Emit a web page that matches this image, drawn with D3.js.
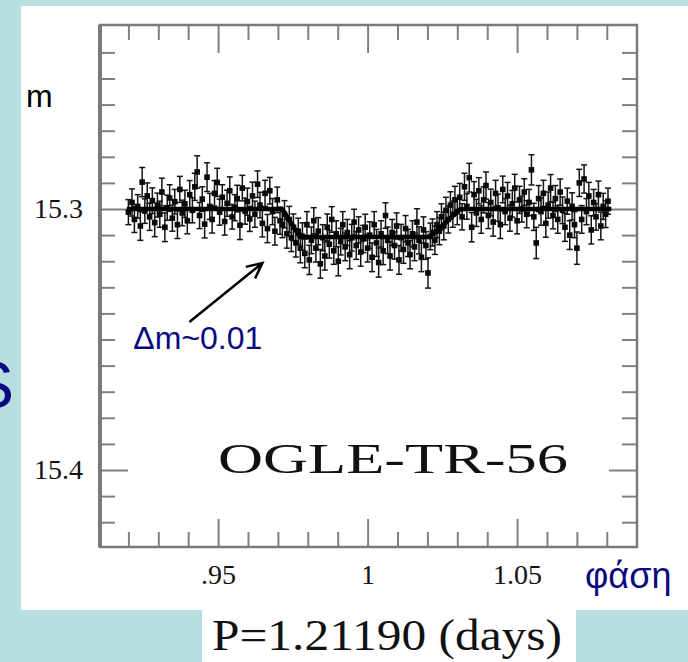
<!DOCTYPE html>
<html>
<head>
<meta charset="utf-8">
<script src="https://cdn.jsdelivr.net/npm/d3@7"></script>
<style>
html, body { margin: 0; padding: 0; background: #b8dee2; }
svg { display: block; }
</style>
</head>
<body>
<svg id="chart" width="688" height="662"></svg>
<script>
// [phase, magnitude, error]
var preTransit = [
	[0.9200,15.3012,.0048],[0.9212,15.2975,.0052],[0.9220,15.3040,.0050],[0.9231,15.2990,.0045],
	[0.9240,15.3065,.0055],[0.9246,15.2897,.0056],[0.9255,15.3008,.0047],[0.9263,15.2950,.0050],
	[0.9271,15.3030,.0052],[0.9280,15.2968,.0049],[0.9288,15.3052,.0054],[0.9297,15.2985,.0046],
	[0.9305,15.3020,.0050],[0.9312,15.2935,.0053],[0.9322,15.3070,.0055],[0.9330,15.2995,.0048],
	[0.9338,15.2958,.0051],[0.9347,15.3035,.0050],[0.9355,15.2972,.0047],[0.9364,15.3060,.0053],
	[0.9372,15.2925,.0050],[0.9380,15.3015,.0049],[0.9389,15.2980,.0052],[0.9397,15.3045,.0050],
	[0.9405,15.2945,.0054],[0.9414,15.3005,.0048],[0.9422,15.2915,.0052],[0.9430,15.2858,.0062],
	[0.9438,15.3025,.0050],[0.9447,15.2962,.0047],[0.9455,15.3058,.0053],[0.9463,15.2878,.0055],
	[0.9472,15.2990,.0050],[0.9480,15.3040,.0052],[0.9488,15.2940,.0049],[0.9497,15.2898,.0054],
	[0.9505,15.3012,.0050],[0.9514,15.2955,.0048],[0.9522,15.3048,.0052],[0.9530,15.2978,.0050],
	[0.9539,15.2930,.0053],[0.9547,15.3030,.0047],[0.9556,15.2995,.0050],[0.9564,15.2960,.0051],
	[0.9573,15.3062,.0055],[0.9581,15.2920,.0049],[0.9590,15.3008,.0050],[0.9598,15.2972,.0052],
	[0.9606,15.3038,.0048],[0.9615,15.2950,.0053],[0.9623,15.3020,.0050],[0.9632,15.2905,.0051],
	[0.9640,15.2985,.0049],[0.9648,15.3055,.0052],[0.9657,15.2940,.0050],[0.9665,15.3075,.0054],
	[0.9673,15.2930,.0051],[0.9682,15.3010,.0050],[0.9690,15.3085,.0053],[0.9698,15.2965,.0049],
	[0.9707,15.3045,.0052]
];
var ingress = [
	[0.9715,15.3060,.0050],[0.9722,15.3020,.0052],[0.9730,15.3095,.0055],[0.9738,15.3040,.0050],
	[0.9745,15.3110,.0053],[0.9752,15.3070,.0051],[0.9760,15.3130,.0054],[0.9768,15.3085,.0050],
	[0.9775,15.3150,.0056]
];
var transitFloor = [
	[0.9782,15.3105,.0052],[0.9790,15.3170,.0055],[0.9797,15.3060,.0050],[0.9805,15.3195,.0056],
	[0.9812,15.3120,.0051],[0.9820,15.3045,.0050],[0.9827,15.3150,.0053],[0.9835,15.3085,.0052],
	[0.9842,15.3210,.0055],[0.9850,15.3110,.0050],[0.9857,15.3180,.0054],[0.9865,15.3070,.0051],
	[0.9872,15.3135,.0053],[0.9880,15.3040,.0049],[0.9887,15.3160,.0052],[0.9895,15.3095,.0050],
	[0.9902,15.3200,.0056],[0.9910,15.3125,.0051],[0.9917,15.3060,.0050],[0.9925,15.3145,.0053],
	[0.9932,15.3090,.0050],[0.9940,15.3175,.0054],[0.9947,15.3110,.0051],[0.9955,15.3050,.0049],
	[0.9962,15.3140,.0053],[0.9970,15.3080,.0050],[0.9977,15.3165,.0054],[0.9985,15.3115,.0052],
	[0.9992,15.3070,.0050],[1.0000,15.3150,.0053],[1.0007,15.3100,.0051],[1.0015,15.3185,.0055],
	[1.0022,15.3060,.0050],[1.0030,15.3130,.0052],[1.0037,15.3205,.0056],[1.0045,15.3095,.0050],
	[1.0052,15.3160,.0053],[1.0060,15.3025,.0049],[1.0067,15.3120,.0051],[1.0075,15.3180,.0054],
	[1.0082,15.3090,.0050],[1.0090,15.3140,.0052],[1.0097,15.3065,.0050],[1.0105,15.3195,.0055],
	[1.0112,15.3110,.0051],[1.0120,15.3155,.0053],[1.0127,15.3075,.0050],[1.0135,15.3130,.0052],
	[1.0142,15.3175,.0054],[1.0150,15.3095,.0050],[1.0157,15.3145,.0053],[1.0165,15.3050,.0051],
	[1.0172,15.3120,.0052],[1.0180,15.3185,.0055],[1.0187,15.3080,.0050],[1.0195,15.3140,.0053],
	[1.0202,15.3245,.0058],[1.0210,15.3105,.0051]
];
var egress = [
	[1.0217,15.3090,.0052],[1.0225,15.3120,.0054],[1.0232,15.3060,.0050],[1.0240,15.3085,.0052],
	[1.0247,15.3030,.0050],[1.0255,15.3065,.0053],[1.0262,15.3005,.0050],[1.0270,15.3040,.0052],
	[1.0277,15.2985,.0051],[1.0285,15.3020,.0050],[1.0292,15.2965,.0052],[1.0300,15.3010,.0050]
];
var postTransit = [
	[1.0308,15.2955,.0053],[1.0316,15.3030,.0050],[1.0324,15.2915,.0052],[1.0332,15.2990,.0049],
	[1.0340,15.2880,.0055],[1.0348,15.3070,.0056],[1.0356,15.2945,.0050],[1.0364,15.3015,.0052],
	[1.0372,15.2930,.0050],[1.0380,15.3040,.0053],[1.0388,15.2965,.0050],[1.0396,15.2910,.0052],
	[1.0404,15.3025,.0050],[1.0412,15.2975,.0051],[1.0420,15.3050,.0054],[1.0428,15.2940,.0050],
	[1.0436,15.2995,.0052],[1.0444,15.3060,.0053],[1.0452,15.2925,.0051],[1.0460,15.3010,.0050],
	[1.0468,15.2950,.0052],[1.0476,15.3035,.0050],[1.0484,15.2980,.0051],[1.0492,15.2920,.0053],
	[1.0500,15.3045,.0050],[1.0508,15.2965,.0052],[1.0516,15.3000,.0050],[1.0524,15.2935,.0051],
	[1.0532,15.3020,.0052],[1.0540,15.2975,.0050],[1.0548,15.2850,.0058],[1.0556,15.3030,.0052],
	[1.0564,15.3130,.0060],[1.0572,15.2960,.0050],[1.0580,15.3010,.0052],[1.0588,15.2940,.0050],
	[1.0596,15.3055,.0053],[1.0604,15.2985,.0050],[1.0612,15.2920,.0052],[1.0620,15.3025,.0051],
	[1.0628,15.2960,.0050],[1.0636,15.3040,.0053],[1.0644,15.2935,.0050],[1.0652,15.3005,.0051],
	[1.0660,15.3070,.0054],[1.0668,15.2970,.0050],[1.0676,15.3100,.0055],[1.0684,15.2990,.0052],
	[1.0692,15.3060,.0050],[1.0700,15.3150,.0062],[1.0708,15.2900,.0052],[1.0716,15.3040,.0053],
	[1.0724,15.2885,.0054],[1.0732,15.3010,.0050],[1.0740,15.2950,.0052],[1.0748,15.3080,.0054],
	[1.0756,15.2975,.0050],[1.0764,15.3030,.0051],[1.0772,15.2945,.0052],[1.0780,15.3065,.0053],
	[1.0788,15.2990,.0050],[1.0796,15.3020,.0051],[1.0804,15.2970,.0050]
];

// transit model (thick line)
var modelPhase = [0.9195, 0.9714, 0.9774, 1.0209, 1.0310, 1.0815];
var modelMag = [15.300, 15.300, 15.3107, 15.3107, 15.300, 15.300];

// ticks
var xMajor = [0.95, 1.00, 1.05];
var xLabels = [".95", "1", "1.05"];
var xMinor = [0.92,0.93,0.94,0.96,0.97,0.98,0.99,1.01,1.02,1.03,1.04,1.06,1.07,1.08];
var yMajor = [15.3, 15.4];
var yLabels = ["15.3", "15.4"];
var yMinor = [15.24,15.25,15.26,15.27,15.28,15.29,15.31,15.32,15.33,15.34,15.35,15.36,15.37,15.38,15.39,15.41,15.42];

var navy = "#0a0a80",
	tickGrey = "#808080",
	serif = "'Liberation Serif', 'DejaVu Serif', serif",
	sans = "'Liberation Sans', Arial, sans-serif";

var svg = d3.select("#chart");

var x = d3.scaleLinear().domain([0.9105, 1.0901]).range([100, 637]);
var y = d3.scaleLinear().domain([15.2295, 15.4295]).range([25, 547]);

// panels
svg.append("rect").attr("x", 0).attr("y", 0).attr("width", 688).attr("height", 662).attr("fill", "#b8dee2");
svg.append("rect").attr("x", 21).attr("y", 6).attr("width", 667).attr("height", 604).attr("fill", "#fff");
svg.append("rect").attr("x", 202).attr("y", 610).attr("width", 374).attr("height", 52).attr("fill", "#fff");

function styleAxis(g) {
	g.select(".domain").remove();
	g.selectAll(".tick line").attr("stroke", tickGrey).attr("stroke-width", 2);
	g.selectAll(".tick text").attr("font-family", serif).attr("font-size", 28).attr("fill", "#111");
}

var x0 = x.range()[0], x1 = x.range()[1], y0 = y.range()[0], y1 = y.range()[1];

// bottom
svg.append("g").attr("transform", "translate(0," + y1 + ")")
	.call(d3.axisBottom(x).tickValues(xMinor).tickSize(-15).tickFormat("")).call(styleAxis);
svg.append("g").attr("transform", "translate(0," + y1 + ")")
	.call(d3.axisBottom(x).tickValues(xMajor).tickSize(-28).tickPadding(17)
		.tickFormat(function (d, i) { return xLabels[i]; }))
	.call(styleAxis);
// top
svg.append("g").attr("transform", "translate(0," + y0 + ")")
	.call(d3.axisTop(x).tickValues(xMinor).tickSize(-15).tickFormat("")).call(styleAxis);
svg.append("g").attr("transform", "translate(0," + y0 + ")")
	.call(d3.axisTop(x).tickValues(xMajor).tickSize(-28).tickFormat("")).call(styleAxis);
// left
svg.append("g").attr("transform", "translate(" + x0 + ",0)")
	.call(d3.axisLeft(y).tickValues(yMinor).tickSize(-15).tickFormat("")).call(styleAxis);
svg.append("g").attr("transform", "translate(" + x0 + ",0)")
	.call(d3.axisLeft(y).tickValues(yMajor).tickSize(-28).tickPadding(17)
		.tickFormat(function (d, i) { return yLabels[i]; }))
	.call(styleAxis);
// right
svg.append("g").attr("transform", "translate(" + x1 + ",0)")
	.call(d3.axisRight(y).tickValues(yMinor).tickSize(-15).tickFormat("")).call(styleAxis);
svg.append("g").attr("transform", "translate(" + x1 + ",0)")
	.call(d3.axisRight(y).tickValues(yMajor).tickSize(-28).tickFormat("")).call(styleAxis);

// frame
svg.append("rect")
	.attr("x", x0).attr("y", y0).attr("width", x1 - x0).attr("height", y1 - y0)
	.attr("fill", "none").attr("stroke", "#7a7a7a").attr("stroke-width", 2.5);
svg.append("line")
	.attr("x1", x0).attr("x2", x0).attr("y1", y0).attr("y2", y1)
	.attr("stroke", "#7a7a7a").attr("stroke-width", 4);

// observations
var obs = [].concat(preTransit, ingress, transitFloor, egress, postTransit);

var bars = svg.append("g").attr("stroke", "#141414").attr("stroke-width", 1.5);
bars.selectAll(".bar")
	.data(obs)
	.enter().append("line")
	.attr("class", "bar")
	.attr("x1", function (d) { return x(d[0]); })
	.attr("x2", function (d) { return x(d[0]); })
	.attr("y1", function (d) { return y(d[1] - d[2]); })
	.attr("y2", function (d) { return y(d[1] + d[2]); });
bars.selectAll(".capTop")
	.data(obs)
	.enter().append("line")
	.attr("class", "capTop")
	.attr("x1", function (d) { return x(d[0]) - 3; })
	.attr("x2", function (d) { return x(d[0]) + 3; })
	.attr("y1", function (d) { return y(d[1] - d[2]); })
	.attr("y2", function (d) { return y(d[1] - d[2]); });
bars.selectAll(".capBot")
	.data(obs)
	.enter().append("line")
	.attr("class", "capBot")
	.attr("x1", function (d) { return x(d[0]) - 3; })
	.attr("x2", function (d) { return x(d[0]) + 3; })
	.attr("y1", function (d) { return y(d[1] + d[2]); })
	.attr("y2", function (d) { return y(d[1] + d[2]); });

svg.append("g").selectAll("rect")
	.data(obs)
	.enter().append("rect")
	.attr("x", function (d) { return x(d[0]) - 2.8; })
	.attr("y", function (d) { return y(d[1]) - 2.8; })
	.attr("width", 5.6).attr("height", 5.6)
	.attr("fill", "#0a0a0a");

// model
var model = modelPhase.map(function (p, i) { return [p, modelMag[i]]; });
svg.append("path")
	.datum(model)
	.attr("fill", "none")
	.attr("stroke", "#000")
	.attr("stroke-width", 4.5)
	.attr("stroke-linejoin", "round")
	.attr("d", d3.line().x(function (d) { return x(d[0]); }).y(function (d) { return y(d[1]); }));

// arrow annotation
var arrowTail = [0.9404, 15.3433], arrowTip = [0.9648, 15.3207];
var ax1 = x(arrowTail[0]), ay1 = y(arrowTail[1]), ax2 = x(arrowTip[0]), ay2 = y(arrowTip[1]);
var ang = Math.atan2(ay2 - ay1, ax2 - ax1), headLen = 17, spread = 0.45;
svg.append("path")
	.attr("d", "M" + ax1 + "," + ay1 + "L" + ax2 + "," + ay2 +
		"M" + (ax2 - headLen * Math.cos(ang - spread)) + "," + (ay2 - headLen * Math.sin(ang - spread)) +
		"L" + ax2 + "," + ay2 +
		"L" + (ax2 - headLen * Math.cos(ang + spread)) + "," + (ay2 - headLen * Math.sin(ang + spread)))
	.attr("fill", "none").attr("stroke", "#000").attr("stroke-width", 2.5);

svg.append("text")
	.attr("x", x(0.9648)).attr("y", y(15.3536))
	.attr("text-anchor", "end")
	.attr("font-family", sans).attr("font-size", 32).attr("fill", navy)
	.text("Δm~0.01");

// labels
svg.append("text")
	.attr("x", 218).attr("y", 473)
	.attr("font-family", serif).attr("font-size", 42).attr("fill", "#111")
	.attr("textLength", 350).attr("lengthAdjust", "spacingAndGlyphs")
	.text("OGLE-TR-56");

svg.append("text")
	.attr("x", 26).attr("y", 107)
	.attr("font-family", sans).attr("font-size", 32).attr("fill", "#000")
	.text("m");

svg.append("text")
	.attr("x", 585).attr("y", 588)
	.attr("font-family", sans).attr("font-size", 36).attr("fill", navy)
	.text("φάση");

svg.append("text")
	.attr("x", -8).attr("y", 408)
	.attr("text-anchor", "middle")
	.attr("font-family", sans).attr("font-size", 66).attr("fill", navy)
	.text("S");

svg.append("text")
	.attr("x", 212).attr("y", 650)
	.attr("font-family", serif).attr("font-size", 44).attr("fill", "#111")
	.attr("textLength", 350).attr("lengthAdjust", "spacingAndGlyphs")
	.text("P=1.21190 (days)");
</script>
</body>
</html>
